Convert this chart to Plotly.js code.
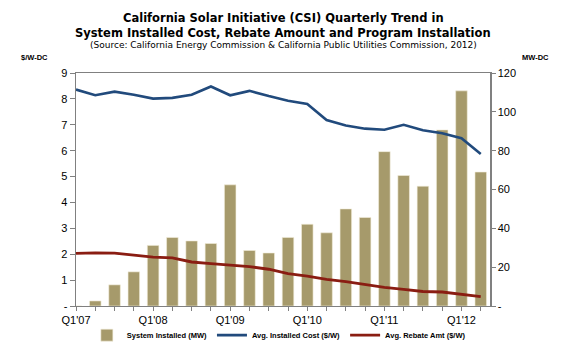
<!DOCTYPE html>
<html>
<head>
<meta charset="utf-8">
<script src="https://cdn.plot.ly/plotly-3.0.1.min.js"></script>
<style>html,body{margin:0;padding:0;background:#fff;}#chart{width:580px;height:362px;}</style>
</head>
<body>
<div id="chart"></div>
<script>
// Quarters Q1'07 .. Q2'12
const quarters = ["Q1'07","Q2'07","Q3'07","Q4'07","Q1'08","Q2'08","Q3'08","Q4'08",
  "Q1'09","Q2'09","Q3'09","Q4'09","Q1'10","Q2'10","Q3'10","Q4'10",
  "Q1'11","Q2'11","Q3'11","Q4'11","Q1'12","Q2'12"];
// System installed (MW-DC)
const systemInstalled = [0, 2.6, 10.9, 17.6, 31.2, 35.3, 33.5, 32.2,
  62.4, 28.6, 27.3, 35.3, 42.1, 37.7, 50.0, 45.6,
  79.5, 67.2, 61.7, 90.7, 110.8, 69.0];
// Avg. installed cost ($/W-DC)
const avgCost = [8.36, 8.14, 8.28, 8.16, 8.01, 8.04, 8.16, 8.48,
  8.14, 8.31, 8.11, 7.93, 7.80, 7.18, 6.97, 6.85,
  6.81, 7.00, 6.79, 6.67, 6.48, 5.87];
// Avg. rebate amount ($/W-DC)
const avgRebate = [2.03, 2.05, 2.04, 1.97, 1.89, 1.86, 1.70, 1.64,
  1.58, 1.52, 1.42, 1.25, 1.15, 1.03, 0.94, 0.82,
  0.72, 0.64, 0.56, 0.54, 0.44, 0.36];
const xTickLabels = ["Q1'07","Q1'08","Q1'09","Q1'10","Q1'11","Q1'12"];
const leftTicks = [0,1,2,3,4,5,6,7,8,9];
const leftTickText = ["-","1","2","3","4","5","6","7","8","9"];
const rightTicks = [0,20,40,60,80,100,120];
const rightTickText = ["-","20","40","60","80","100","120"];

const titleLine1 = 'California Solar Initiative (CSI) Quarterly Trend in';
const titleLine2 = 'System Installed Cost, Rebate Amount and Program Installation';
const subTitle = '(Source: California Energy Commission & California Public Utilities Commission, 2012)';

const idx = quarters.map((q,i)=>i);
const ticktext = quarters.map(q => xTickLabels.includes(q) ? q : "");

const traces = [
  {type:'bar', x: idx, y: systemInstalled, name:'System Installed (MW)', yaxis:'y',
   marker:{color:'#a69a6b', line:{color:'#f3efdc', width:0.6}}, width:0.6},
  {type:'scatter', mode:'lines', x: idx, y: avgCost, name:'Avg. Installed Cost ($/W)', yaxis:'y2',
   line:{color:'#214a7c', width:2.6}},
  {type:'scatter', mode:'lines', x: idx, y: avgRebate, name:'Avg. Rebate Amt ($/W)', yaxis:'y2',
   line:{color:'#8a1d12', width:2.8}}
];

const axisFont = {family:'Liberation Sans, Arial, sans-serif', size:11, color:'#000'};
const titleFont = {family:'DejaVu Sans, Verdana, sans-serif', size:11.5, color:'#000'};
const layout = {
  width:580, height:362,
  margin:{l:76, r:90, t:73, b:44},
  paper_bgcolor:'#fff', plot_bgcolor:'#fff',
  showlegend:true,
  xaxis:{range:[0,21.48], tickvals: idx, ticktext: ticktext, ticks:'outside', ticklen:4,
    tickcolor:'#808080', showline:true, linecolor:'#808080', linewidth:1, mirror:true,
    showgrid:false, zeroline:false, tickfont:axisFont, tickangle:0, fixedrange:true},
  yaxis:{range:[0,120], side:'right', tickvals:rightTicks, ticktext:rightTickText,
    ticks:'outside', ticklen:4, tickcolor:'#808080', showline:true, linecolor:'#808080',
    linewidth:1.5, showgrid:false, zeroline:false, tickfont:axisFont},
  yaxis2:{range:[0,9], side:'left', overlaying:'y', tickvals:leftTicks, ticktext:leftTickText,
    ticks:'outside', ticklen:5, tickcolor:'#808080', showline:true, linecolor:'#808080',
    linewidth:1.5, showgrid:false, zeroline:false, tickfont:axisFont},
  legend:{orientation:'h', x:0.49, xanchor:'center', y:-0.125, yanchor:'middle',
    font:{family:'Liberation Sans, Arial, sans-serif', size:7.5, color:'#000', weight:'bold'},
    itemwidth:30, traceorder:'normal', bgcolor:'rgba(0,0,0,0)'},
  annotations:[
    {text:'<b>'+titleLine1+'</b>', xref:'paper', yref:'paper', x:0.5, y:1.235, xanchor:'center', yanchor:'middle',
     showarrow:false, font:titleFont},
    {text:'<b>'+titleLine2+'</b>', xref:'paper', yref:'paper', x:0.5, y:1.173, xanchor:'center', yanchor:'middle',
     showarrow:false, font:titleFont},
    {text:subTitle,
     xref:'paper', yref:'paper', x:0.5, y:1.12, xanchor:'center', yanchor:'middle', showarrow:false,
     font:{family:'DejaVu Sans, Verdana, sans-serif', size:9, color:'#000'}},
    {text:'<b>$/W-DC</b>', xref:'paper', yref:'paper', x:-0.1, y:1.067, xanchor:'center', yanchor:'middle',
     showarrow:false, font:{family:'Liberation Sans, Arial, sans-serif', size:7.5, color:'#000'}},
    {text:'<b>MW-DC</b>', xref:'paper', yref:'paper', x:1.11, y:1.067, xanchor:'center', yanchor:'middle',
     showarrow:false, font:{family:'Liberation Sans, Arial, sans-serif', size:7.5, color:'#000'}}
  ]
};
Plotly.newPlot('chart', traces, layout, {displayModeBar:false, staticPlot:true});
</script>
</body>
</html>
